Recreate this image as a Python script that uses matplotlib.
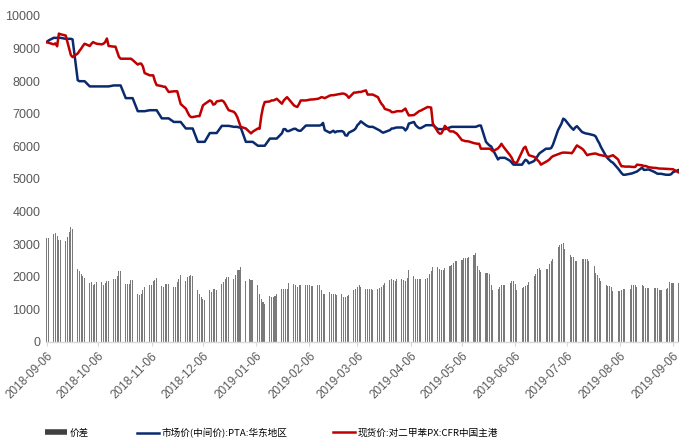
import numpy as np
import pandas as pd
import matplotlib
matplotlib.use("Agg")
from matplotlib import pyplot as plt
import matplotlib.dates as mdates
from matplotlib.lines import Line2D

plt.rcParams['font.family'] = ['Liberation Sans', 'Noto Sans CJK SC', 'DejaVu Sans']

# trading days, 2018-09-06 .. 2019-09-09
dates = pd.bdate_range('2018-09-06', '2019-09-09')

# spread (bars), one row per week
spread = [
    3190, 3200,
    3300, 3350, 3250, 3120, 3130,
    3090, 3220, 3370, 3530, 3480,
    2250, 2170, 2100, 2020, 1970,
    1820, 1840, 1760, 1790, 1840,
    1840, 1760, 1800, 1860, 1860,
    1920, 1920, 2010, 2170, 2170,
    1790, 1790, 1790, 1890, 1890,
    1480, 1450, 1480, 1580, 1690,
    1740, 1750, 1860, 1900, 1960,
    1720, 1690, 1790, 1790, 1790,
    1690, 1690, 1840, 1940, 2040,
    1860, 1990, 2020, 2040, 2030,
    1580, 1480, 1380, 1330, 1280,
    1580, 1530, 1640, 1620, 1580,
    1790, 1840, 1940, 1990, 2000,
    1940, 2040, 2200, 2220, 2300,
    1860, np.nan, 1940, 1890, 1890,
    1740, 1480, 1330, 1230, 1180,
    1410, 1380, 1380, 1410, 1480,
    1640, 1620, 1640, 1640, 1820,
    1790, 1740, 1690, 1740, 1760,
    1760, 1760, 1740, 1720, 1720,
    1740, 1740, 1580, 1480, 1480,
    1530, 1480, 1480, 1480, 1430,
    1480, 1380, 1380, 1420, 1450,
    1580, 1620, 1700, 1760, 1690,
    1640, 1640, 1620, 1620, 1580,
    1640, 1650, 1700, 1760, 1820,
    1890, 1940, 1890, 1860, 1940,
    1920, 1890, 1860, 1960, 2200,
    2020, 1920, 1920, 1940, 1920,
    1920, 1960, 2100, 2170, 2300,
    2300, 2230, 2200, 2200, 2270,
    2330, 2370, 2430, 2480, 2500,
    2530, 2580, 2580, 2580, 2610,
    2660, 2740, 2330, 2200, 2150,
    2130, 2130, 2080, 1760, 1610,
    1640, 1690, 1740, 1760, 1760,
    1820, 1860, 1860, 1790, 1600,
    1660, 1690, 1720, 1760, 1840,
    2020, 2100, 2250, 2270, 2200,
    2230, 2230, 2400, 2500, 2560,
    2910, 2980, 3010, 3050, 2840,
    2660, 2610, 2610, 2500, 2500,
    2560, 2560, 2540, 2560, 2500,
    2330, 2130, 2040, 1960, 1860,
    1740, 1720, 1720, 1700, 1550,
    1550, 1550, 1580, 1640, 1640,
    1640, 1760, 1740, 1740, 1690,
    1740, 1720, 1660, 1660, 1660,
    1660, 1660, 1660, 1610, 1610,
    1640, 1660, 1840, 1820, 1820,
    1820,
]

# PTA market price, East China
pta = [
    9200, 9250,
    9330, 9330, 9330, 9330, 9330,
    9300, 9300, 9300, 9300, 9280,
    8030, 8000, 8000, 8000, 8000,
    7840, 7840, 7840, 7840, 7840,
    7840, 7840, 7840, 7840, 7840,
    7870, 7870, 7870, 7870, 7870,
    7480, 7480, 7480, 7480, 7480,
    7080, 7080, 7080, 7080, 7080,
    7110, 7110, 7110, 7110, 7110,
    6860, 6860, 6860, 6860, 6860,
    6750, 6750, 6750, 6750, 6750,
    6550, 6550, 6550, 6550, 6550,
    6140, 6140, 6140, 6140, 6140,
    6410, 6410, 6410, 6410, 6410,
    6630, 6630, 6630, 6630, 6630,
    6600, 6600, 6600, 6580, 6580,
    6140, 6140, 6140, 6140, 6140,
    6020, 6020, 6020, 6020, 6020,
    6240, 6240, 6240, 6240, 6240,
    6400, 6530, 6530, 6470, 6470,
    6540, 6540, 6500, 6480, 6480,
    6640, 6640, 6640, 6640, 6640,
    6640, 6640, 6660, 6720, 6500,
    6420, 6450, 6480, 6430, 6460,
    6470, 6440, 6340, 6330, 6420,
    6500, 6550, 6650, 6700, 6770,
    6650, 6620, 6600, 6600, 6600,
    6520, 6490, 6450, 6420, 6440,
    6500, 6550, 6550, 6570, 6580,
    6580, 6560, 6490, 6550, 6700,
    6750, 6650, 6600, 6560, 6560,
    6650, 6650, 6650, 6650, 6650,
    6530, 6530, 6530, 6530, 6530,
    6580, 6600, 6600, 6600, 6600,
    6600, 6600, 6600, 6600, 6600,
    6600, 6600, 6620, 6640, 6640,
    6140, 6080, 6030, 6000, 5900,
    5600, 5650, 5650, 5650, 5650,
    5560, 5500, 5440, 5440, 5440,
    5440, 5520, 5590, 5560, 5480,
    5550, 5620, 5700, 5780, 5820,
    5930, 5930, 5930, 5950, 6050,
    6500, 6600, 6700, 6850, 6820,
    6620, 6560, 6510, 6580, 6620,
    6440, 6420, 6400, 6390, 6380,
    6340, 6300, 6190, 6100, 5980,
    5700, 5630, 5580, 5530, 5500,
    5320, 5250, 5180, 5130, 5130,
    5160, 5170, 5190, 5210, 5230,
    5350, 5280, 5280, 5290, 5290,
    5220, 5190, 5160, 5160, 5160,
    5130, 5130, 5130, 5150, 5210,
    5270,
]

# PX spot price, CFR China
px = [
    9200, 9180,
    9130, 9160, 9070, 9460, 9440,
    9400, 9200, 9000, 8800, 8740,
    8850, 8930, 9000, 9080, 9150,
    9080, 9150, 9200, 9170, 9150,
    9130, 9150, 9200, 9310, 9080,
    9060, 9060, 8900, 8750, 8690,
    8690, 8690, 8690, 8690, 8650,
    8510, 8540, 8540, 8450, 8250,
    8180, 8180, 8180, 8000, 7880,
    7850, 7830, 7830, 7750, 7670,
    7690, 7690, 7690, 7500, 7300,
    7160, 7050, 6950, 6900, 6900,
    6930, 6930, 7100, 7260, 7300,
    7410, 7380, 7280, 7300, 7380,
    7410, 7380, 7300, 7200, 7110,
    7060, 7000, 6900, 6750, 6600,
    6550, 6500, 6450, 6400, 6450,
    6550, 6540, 6930, 7200, 7360,
    7380, 7410, 7410, 7430, 7460,
    7310, 7400, 7460, 7510, 7450,
    7260, 7230, 7210, 7300, 7410,
    7410, 7420, 7430, 7440, 7440,
    7460, 7480, 7510, 7500, 7480,
    7560, 7570, 7570, 7580, 7590,
    7620, 7620, 7600, 7560, 7490,
    7650, 7650, 7660, 7670, 7670,
    7720, 7590, 7590, 7590, 7590,
    7510, 7400, 7310, 7250, 7150,
    7100, 7050, 7050, 7060, 7080,
    7080, 7120, 7160, 7050, 6950,
    6960, 7000, 7040, 7080, 7100,
    7180, 7210, 7200, 7190, 6700,
    6440, 6390, 6400, 6500, 6630,
    6460, 6460, 6460, 6420, 6390,
    6190, 6180, 6160, 6160, 6150,
    6100, 6090, 6080, 6080, 5930,
    5930, 5930, 5930, 5900, 5850,
    5940, 6000, 6080, 6000, 5930,
    5730, 5650, 5530, 5500, 5500,
    5840, 5950, 5990, 5850, 5730,
    5680, 5650, 5580, 5530, 5440,
    5530, 5560, 5600, 5660, 5700,
    5760, 5780, 5800, 5810, 5810,
    5800, 5790, 5860, 5950, 6030,
    5930, 5880, 5800, 5730, 5750,
    5780, 5780, 5760, 5740, 5730,
    5700, 5680, 5690, 5710, 5730,
    5600, 5480, 5390, 5390, 5380,
    5380, 5370, 5370, 5370, 5440,
    5420, 5400, 5400, 5380, 5360,
    5340, 5340, 5330, 5320, 5320,
    5310, 5310, 5300, 5300, 5300,
    5210,
]

labels = ['价差', '市场价(中间价):PTA:华东地区', '现货价:对二甲苯PX:CFR中国主港']
bar_color = '#7a7a7a'
navy = '#0a2a6e'
red = '#c00000'
text_color = '#595959'

fig = plt.figure(figsize=(6.79, 4.43), dpi=100)
ax = fig.add_axes([46 / 679, 1 - 342 / 443, 633 / 679, 326 / 443])

ax.bar(dates, spread, width=0.6, color=bar_color, linewidth=0, zorder=1)
ax.plot(dates, pta, color=navy, linewidth=1.8, zorder=3)
ax.plot(dates, px, color=red, linewidth=1.8, zorder=4)

ax.set_ylim(0, 10000)
ax.set_yticks(np.arange(0, 10001, 1000))
ax.set_xlim(pd.Timestamp('2018-09-05 12:00'), pd.Timestamp('2019-09-09 12:00'))
ax.xaxis.set_major_locator(mdates.MonthLocator(bymonthday=6))
ax.xaxis.set_major_formatter(mdates.DateFormatter('%Y-%m-%d'))

for s in ['top', 'right', 'left']:
    ax.spines[s].set_visible(False)
ax.spines['bottom'].set_color('#d9d9d9')
ax.spines['bottom'].set_linewidth(1.0)

ax.tick_params(axis='y', length=0, pad=4, labelsize=9, labelcolor=text_color)
ax.tick_params(axis='x', length=3, width=0.8, color='#d9d9d9', pad=3,
               labelsize=8.5, labelcolor=text_color)
for lab in ax.get_xticklabels():
    lab.set_rotation(45)
    lab.set_ha('right')
    lab.set_va('top')
    lab.set_rotation_mode('anchor')

handles = [
    Line2D([], [], color='#404040', linewidth=4, solid_capstyle='butt'),
    Line2D([], [], color=navy, linewidth=1.8),
    Line2D([], [], color=red, linewidth=1.8),
]
# one legend entry per position along the bottom row
legend_x = [45, 137, 333]
for h, lab, x0 in zip(handles, labels, legend_x):
    fig.legend([h], [lab], loc='center left', bbox_to_anchor=(x0 / 679, 1 - 433 / 443),
               frameon=False, handlelength=2.3, handletextpad=0.3,
               borderpad=0, borderaxespad=0,
               prop={'family': ['Noto Sans CJK SC', 'DejaVu Sans'], 'size': 6.9})

fig.savefig('out.png', dpi=100)
